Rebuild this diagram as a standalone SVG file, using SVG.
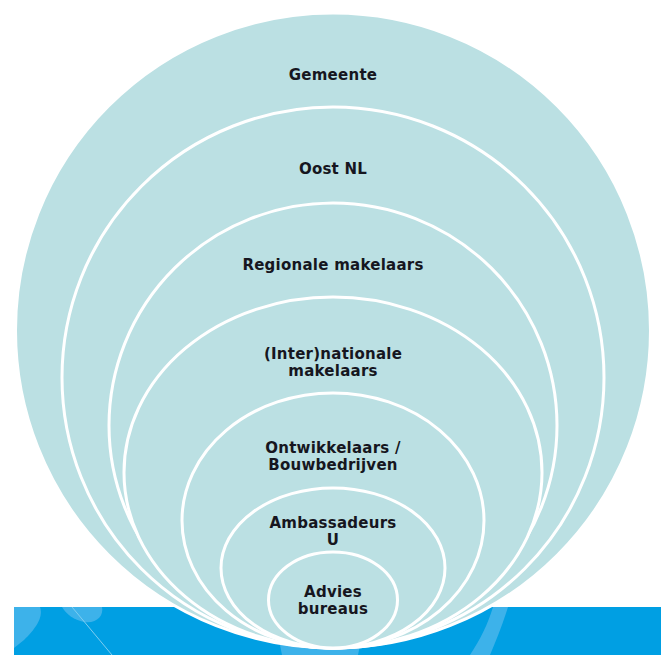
<svg xmlns="http://www.w3.org/2000/svg" width="661" height="655" viewBox="0 0 661 655">
<style>
.ring{fill:#bbe0e3;stroke:#ffffff;stroke-width:3}
.lbl{font-family:"DejaVu Sans",Verdana,sans-serif;font-weight:bold;font-size:15px;letter-spacing:0.25px;fill:#161620;text-anchor:middle}
.lite{fill:#3db2ea}
</style>
<rect x="0" y="0" width="661" height="655" fill="#ffffff"/>
<g id="band">
<rect x="14" y="607" width="647" height="48" fill="#009fe3"/>
<path class="lite" d="M14 607 L40 607 C44 618 34 630 24 640 L14 648 Z"/>
<path class="lite" d="M62 607 L102 607 C104 616 96 624 84 622 C74 620 66 614 62 607 Z"/>
<path d="M72 607 L112 655" stroke="#7fcdf0" stroke-width="1" fill="none"/>
<path class="lite" d="M493 607 L508 607 C504 620 498 636 490 655 L470 655 C480 640 488 624 493 607 Z"/>
<path class="lite" d="M280 645 L360 645 L358 655 L282 655 Z"/>
</g>
<g id="gemeente">
<ellipse class="ring" cx="333" cy="330.5" rx="317.5" ry="317.5"/>
<text class="lbl" x="333" y="80">Gemeente</text>
</g>
<g id="oost-nl">
<ellipse class="ring" cx="333" cy="377.5" rx="271" ry="270.5"/>
<text class="lbl" x="333" y="174">Oost NL</text>
</g>
<g id="regionale-makelaars">
<ellipse class="ring" cx="333" cy="425.5" rx="224" ry="222.5"/>
<text class="lbl" x="333" y="270">Regionale makelaars</text>
</g>
<g id="internationale-makelaars">
<ellipse class="ring" cx="333" cy="472.5" rx="209" ry="175.5"/>
<text class="lbl" x="333" y="359">(Inter)nationale<tspan x="333" y="376">makelaars</tspan></text>
</g>
<g id="ontwikkelaars">
<ellipse class="ring" cx="333" cy="520.5" rx="151" ry="127.5"/>
<text class="lbl" x="333" y="453">Ontwikkelaars /<tspan x="333" y="470">Bouwbedrijven</tspan></text>
</g>
<g id="ambassadeurs">
<ellipse class="ring" cx="333" cy="568" rx="112" ry="80"/>
<text class="lbl" x="333" y="528">Ambassadeurs<tspan x="333" y="545">U</tspan></text>
</g>
<g id="advies-bureaus">
<ellipse class="ring" cx="333" cy="600" rx="64.5" ry="48"/>
<text class="lbl" x="333" y="597">Advies<tspan x="333" y="614">bureaus</tspan></text>
</g>
<g id="connectors"/>
</svg>
